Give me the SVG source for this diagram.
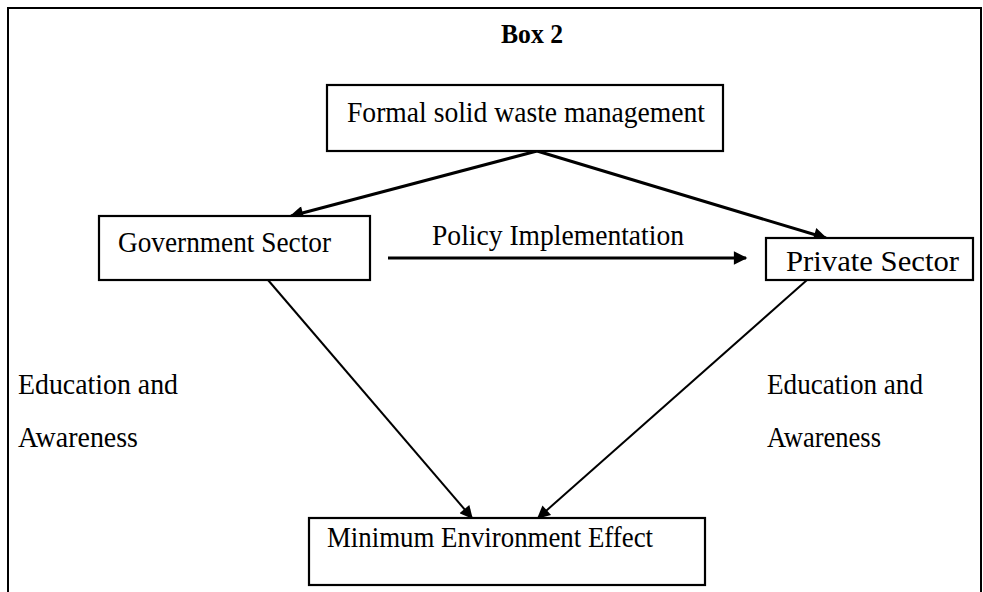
<svg xmlns="http://www.w3.org/2000/svg" width="983" height="592" viewBox="0 0 983 592">
  <defs>
    <marker id="head" viewBox="0 0 10 10" refX="9" refY="5" markerWidth="5.5" markerHeight="4.5" markerUnits="strokeWidth" orient="auto">
      <path d="M0,0 L10,5 L0,10 z" fill="#000"/>
    </marker>
    <marker id="head-thin" viewBox="0 0 10 10" refX="9" refY="5" markerWidth="8" markerHeight="6.5" markerUnits="strokeWidth" orient="auto">
      <path d="M0,0 L10,5 L0,10 z" fill="#000"/>
    </marker>
    <style>
      .box { fill: #fff; stroke: #000; stroke-width: 2.2; }
      .lbl { font-family: "Liberation Serif", "Times New Roman", serif; font-size: 29px; fill: #000; }
      .title { font-family: "Liberation Serif", "Times New Roman", serif; font-size: 27px; font-weight: bold; fill: #000; }
      .thick { stroke: #000; stroke-width: 3; fill: none; }
      .thin { stroke: #000; stroke-width: 2; fill: none; }
    </style>
  </defs>

  <rect width="983" height="592" fill="#fff"/>

  <!-- outer frame, open at the bottom edge -->
  <path d="M8,592 V8 H981 V592" fill="none" stroke="#000" stroke-width="2"/>

  <text class="title" x="532" y="43" text-anchor="middle" textLength="62" lengthAdjust="spacingAndGlyphs">Box 2</text>

  <g id="connectors">
    <line class="thick" x1="537" y1="151" x2="291" y2="216" marker-end="url(#head)"/>
    <line class="thick" x1="537" y1="151" x2="826" y2="238" marker-end="url(#head)"/>
    <line class="thick" x1="388" y1="258" x2="746" y2="258" stroke-width="4" marker-end="url(#head)"/>
    <line class="thin" x1="268" y1="280" x2="472" y2="518" marker-end="url(#head-thin)"/>
    <line class="thin" x1="807" y1="280" x2="538" y2="518" marker-end="url(#head-thin)"/>
  </g>

  <g id="formal">
    <rect class="box" x="327" y="85" width="396" height="66"/>
    <text class="lbl" x="347" y="122" textLength="358" lengthAdjust="spacingAndGlyphs">Formal solid waste management</text>
  </g>

  <g id="government">
    <rect class="box" x="99" y="216" width="271" height="64"/>
    <text class="lbl" x="118" y="252" textLength="213" lengthAdjust="spacingAndGlyphs">Government Sector</text>
  </g>

  <g id="policy-label">
    <text class="lbl" x="432" y="245" textLength="252" lengthAdjust="spacingAndGlyphs">Policy Implementation</text>
  </g>

  <g id="private">
    <rect class="box" x="766" y="238" width="207" height="42"/>
    <text class="lbl" x="786" y="271" textLength="173" lengthAdjust="spacingAndGlyphs">Private Sector</text>
  </g>

  <g id="edu-left">
    <text class="lbl" x="18" y="394" textLength="160" lengthAdjust="spacingAndGlyphs">Education and</text>
    <text class="lbl" x="18" y="447" textLength="120" lengthAdjust="spacingAndGlyphs">Awareness</text>
  </g>

  <g id="edu-right">
    <text class="lbl" x="767" y="394" textLength="156" lengthAdjust="spacingAndGlyphs">Education and</text>
    <text class="lbl" x="767" y="447" textLength="114" lengthAdjust="spacingAndGlyphs">Awareness</text>
  </g>

  <g id="minimum">
    <rect class="box" x="309" y="518" width="396" height="67"/>
    <text class="lbl" x="327" y="547" textLength="326" lengthAdjust="spacingAndGlyphs">Minimum Environment Effect</text>
  </g>
</svg>
